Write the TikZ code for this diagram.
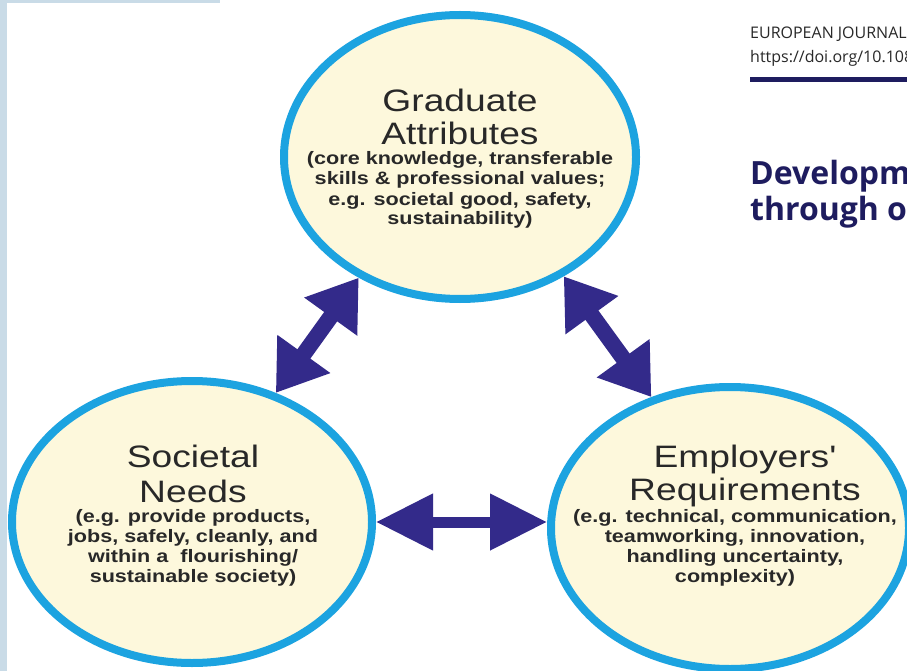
\documentclass[tikz,border=0pt]{standalone}
\usepackage{fontspec}
\setmainfont{Liberation Sans}
\newfontfamily\dsans[FakeStretch=1.2]{Liberation Sans}
\newfontfamily\hdrfont{Open Sans}
\usetikzlibrary{shapes.geometric,arrows.meta}
\definecolor{ringblue}{RGB}{28,163,224}
\definecolor{cream}{RGB}{253,248,220}
\definecolor{arrowind}{RGB}{51,42,138}
\definecolor{txtgrey}{RGB}{40,40,40}
\definecolor{navyhdr}{RGB}{30,28,95}
\definecolor{stripe}{RGB}{201,219,231}
\begin{document}
\begin{tikzpicture}[x=1pt,y=-1pt,
  ring/.style={ellipse, draw=ringblue, fill=cream, line width=8pt, inner sep=0pt},
  ttl/.style={anchor=base, inner sep=0pt, text=txtgrey, font=\dsans\fontsize{31}{34}\selectfont},
  sub/.style={anchor=base, inner sep=0pt, text=txtgrey, font=\dsans\bfseries\fontsize{18}{20}\selectfont},
  dbl/.style={draw=arrowind, line width=16pt, {Triangle[length=48pt,width=62pt]}-{Triangle[length=48pt,width=62pt]}},
  hbl/.style={draw=arrowind, line width=11pt, {Triangle[length=57pt,width=54pt]}-{Triangle[length=57pt,width=54pt]}},
  hdr/.style={anchor=base west, inner sep=0pt, text=txtgrey, font=\hdrfont\fontsize{16}{19}\selectfont},
  hdrtitle/.style={anchor=base west, inner sep=0pt, text=navyhdr, font=\hdrfont\bfseries\fontsize{32}{36}\selectfont}]
\clip (0,0) rectangle (907,671);
\fill[white] (0,0) rectangle (907,671);
\fill[stripe] (0,0) rectangle (7,671);
\fill[stripe] (0,0) rectangle (220,3);

% header
\node[hdr] (hj) at (750,39) {EUROPEAN JOURNAL};
\node[hdr] (hd) at (750,63) {https://doi.org/10.108};
\draw[navyhdr, line width=5pt] (750,79.5) -- (910,79.5);
\node[hdrtitle] (ht1) at (750,185) {Developm};
\node[hdrtitle] (ht2) at (750,220) {through o};

% circles
\node[ring, minimum width=352pt, minimum height=284pt] (ga) at (460,157) {};
\node[ring, minimum width=360pt, minimum height=282pt] (sn) at (192,522) {};
\node[ring, minimum width=358pt, minimum height=282pt] (em) at (730,528) {};

% texts: Graduate Attributes
\node[ttl] (ga1) at (460,112) {Graduate};
\node[ttl] (ga2) at (460,145) {Attributes};
\node[sub] (ga3) at (460,165) {(core knowledge, transferable};
\node[sub] (ga4) at (460,185) {skills \& professional values;};
\node[sub] (ga5) at (460,205) {e.g. societal good, safety,};
\node[sub] (ga6) at (460,225) {sustainability)};

% Societal Needs
\node[ttl] (sn1) at (193,467) {Societal};
\node[ttl] (sn2) at (193,502) {Needs};
\node[sub] (sn3) at (193,522) {(e.g. provide products,};
\node[sub] (sn4) at (193,542) {jobs, safely, cleanly, and};
\node[sub] (sn5) at (193,562) {within a\ \ flourishing/};
\node[sub] (sn6) at (193,582) {sustainable society)};

% Employers' Requirements
\node[ttl] (em1) at (745,467) {Employers'};
\node[ttl] (em2) at (745,500) {Requirements};
\node[sub] (em3) at (735,522) {(e.g. technical, communication,};
\node[sub] (em4) at (735,542) {teamworking, innovation,};
\node[sub] (em5) at (735,562) {handling uncertainty,};
\node[sub] (em6) at (735,582) {complexity)};

% arrows
\draw[dbl] (sn.57) -- (ga.230);
\draw[dbl] (ga.311) -- (em.121);
\draw[hbl] (sn.east) -- (sn.east -| em.west);
\end{tikzpicture}
\end{document}
